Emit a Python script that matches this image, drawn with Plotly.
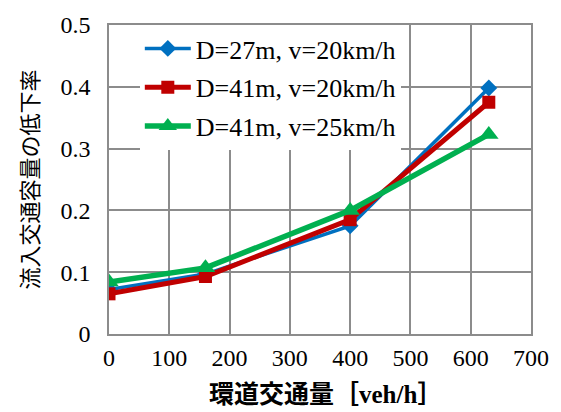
import plotly.graph_objects as go

x_vals = [0, 160, 400, 630]
blue_vals = [0.072, 0.097, 0.175, 0.398]
red_vals = [0.065, 0.093, 0.185, 0.375]
green_vals = [0.084, 0.107, 0.200, 0.323]
names = ["D=27m, v=20km/h", "D=41m, v=20km/h", "D=41m, v=25km/h"]
x_title = "環道交通量［<span style='font-family:\"Liberation Serif\", serif'>veh/h</span>］"
y_title = "流入交通容量の低下率"

SERIF = "Liberation Serif"
CJK = "Noto Sans CJK JP"

fig = go.Figure()
fig.add_trace(go.Scatter(x=x_vals, y=blue_vals, name=names[0], mode="lines+markers",
                         legendgroup="a",
                         line=dict(color="#0070C0", width=3.5),
                         marker=dict(symbol="diamond", size=13, color="#0070C0")))
fig.add_trace(go.Scatter(x=x_vals, y=red_vals, name=names[1], mode="lines+markers",
                         legendgroup="b",
                         line=dict(color="#C00000", width=5),
                         marker=dict(symbol="square", size=13, color="#C00000")))
fig.add_trace(go.Scatter(x=x_vals, y=green_vals, name=names[2], mode="lines+markers",
                         legendgroup="c",
                         line=dict(color="#00B050", width=5.5),
                         marker=dict(symbol="triangle-up", size=17, color="#00B050")))

axis_common = dict(showgrid=True, gridcolor="#8c8c8c", gridwidth=1.5,
                   showline=True, linecolor="#8c8c8c", linewidth=1.5, mirror=True,
                   zeroline=False, ticks="")
fig.update_xaxes(range=[0, 700], dtick=100, ticklabelstandoff=1, **axis_common,
                 tickfont=dict(family=SERIF, size=24, color="#000"))
fig.update_yaxes(range=[0, 0.5], dtick=0.1, ticklabelstandoff=12, **axis_common,
                 tickfont=dict(family=SERIF, size=24, color="#000"),
                 title=dict(text=y_title, standoff=16,
                            font=dict(family=CJK, size=22, color="#000", weight="normal")))

fig.add_annotation(text=x_title, xref="paper", yref="paper", x=0.514, y=-0.25,
                   xanchor="center", yanchor="bottom", showarrow=False, borderpad=0,
                   font=dict(family=CJK, size=25, color="#000", weight="bold"))

fig.update_layout(
    width=561, height=412,
    margin=dict(l=109, r=26, t=18, b=78),
    plot_bgcolor="white", paper_bgcolor="white",
    showlegend=True,
    legend=dict(x=0.073, y=1.0, xanchor="left", yanchor="top",
                bgcolor="white", borderwidth=0,
                font=dict(family=SERIF, size=26, color="#000"),
                tracegroupgap=2, itemwidth=46),
)
fig.write_html("out.html")
